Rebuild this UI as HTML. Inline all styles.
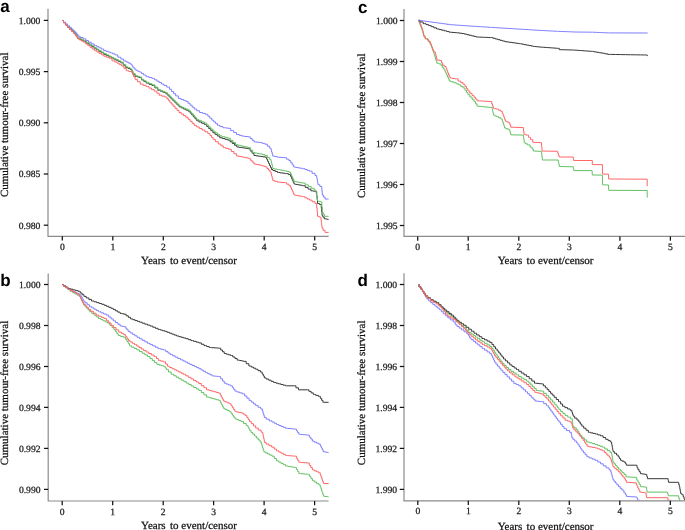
<!DOCTYPE html>
<html><head><meta charset="utf-8"><style>
html,body{margin:0;padding:0;background:#fff;}
svg{display:block;}
text{text-rendering:geometricPrecision;}
.tk{font-family:"Liberation Serif",serif;font-size:9.6px;fill:#1a1a1a;stroke:#1a1a1a;stroke-width:0.25px;}
.lb{font-family:"Liberation Serif",serif;font-size:11px;fill:#111;stroke:#111;stroke-width:0.25px;}
.pl{font-family:"Liberation Sans",sans-serif;font-size:17px;font-weight:bold;fill:#000;}
</style></head><body>
<svg width="685" height="530" viewBox="0 0 685 530">
<g style="filter:blur(0.3px)">
<defs>
<clipPath id="ca"><rect x="48" y="5" width="290" height="231"/></clipPath>
<clipPath id="cb"><rect x="48" y="270" width="290" height="231"/></clipPath>
<clipPath id="cc"><rect x="404" y="5" width="290" height="231"/></clipPath>
<clipPath id="cd"><rect x="404" y="270" width="290" height="230.5"/></clipPath>
</defs>
<path d="M48,8.8V236.3H328.6" fill="none" stroke="#8c8c8c" stroke-width="1.2"/>
<path d="M43.8,20.4H48" stroke="#111" stroke-width="1.25"/>
<text x="40.3" y="23.8" class="tk" text-anchor="end">1.000</text>
<path d="M43.8,71.6H48" stroke="#111" stroke-width="1.25"/>
<text x="40.3" y="75.0" class="tk" text-anchor="end">0.995</text>
<path d="M43.8,122.8H48" stroke="#111" stroke-width="1.25"/>
<text x="40.3" y="126.2" class="tk" text-anchor="end">0.990</text>
<path d="M43.8,174.0H48" stroke="#111" stroke-width="1.25"/>
<text x="40.3" y="177.4" class="tk" text-anchor="end">0.985</text>
<path d="M43.8,225.2H48" stroke="#111" stroke-width="1.25"/>
<text x="40.3" y="228.6" class="tk" text-anchor="end">0.980</text>
<path d="M62.3,236.3V240.6" stroke="#111" stroke-width="1.25"/>
<text x="62.3" y="249.9" class="tk" text-anchor="middle">0</text>
<path d="M112.8,236.3V240.6" stroke="#111" stroke-width="1.25"/>
<text x="112.8" y="249.9" class="tk" text-anchor="middle">1</text>
<path d="M163.3,236.3V240.6" stroke="#111" stroke-width="1.25"/>
<text x="163.3" y="249.9" class="tk" text-anchor="middle">2</text>
<path d="M213.7,236.3V240.6" stroke="#111" stroke-width="1.25"/>
<text x="213.7" y="249.9" class="tk" text-anchor="middle">3</text>
<path d="M264.2,236.3V240.6" stroke="#111" stroke-width="1.25"/>
<text x="264.2" y="249.9" class="tk" text-anchor="middle">4</text>
<path d="M314.7,236.3V240.6" stroke="#111" stroke-width="1.25"/>
<text x="314.7" y="249.9" class="tk" text-anchor="middle">5</text>
<text x="189" y="263.9" class="lb" text-anchor="middle" >Years<tspan dx="1.6"> to event/censor</tspan></text>
<text transform="translate(8.0,124.75) rotate(-90)" class="lb" text-anchor="middle">Cumulative tumour-free survival</text>
<path d="M48.2,273.5V501.0H328.6" fill="none" stroke="#8c8c8c" stroke-width="1.2"/>
<path d="M44.0,284.5H48.2" stroke="#111" stroke-width="1.25"/>
<text x="40.5" y="287.9" class="tk" text-anchor="end">1.000</text>
<path d="M44.0,325.5H48.2" stroke="#111" stroke-width="1.25"/>
<text x="40.5" y="328.9" class="tk" text-anchor="end">0.998</text>
<path d="M44.0,366.5H48.2" stroke="#111" stroke-width="1.25"/>
<text x="40.5" y="369.9" class="tk" text-anchor="end">0.996</text>
<path d="M44.0,407.4H48.2" stroke="#111" stroke-width="1.25"/>
<text x="40.5" y="410.8" class="tk" text-anchor="end">0.994</text>
<path d="M44.0,448.4H48.2" stroke="#111" stroke-width="1.25"/>
<text x="40.5" y="451.8" class="tk" text-anchor="end">0.992</text>
<path d="M44.0,489.4H48.2" stroke="#111" stroke-width="1.25"/>
<text x="40.5" y="492.8" class="tk" text-anchor="end">0.990</text>
<path d="M62.2,501.0V505.3" stroke="#111" stroke-width="1.25"/>
<text x="62.2" y="514.6" class="tk" text-anchor="middle">0</text>
<path d="M112.7,501.0V505.3" stroke="#111" stroke-width="1.25"/>
<text x="112.7" y="514.6" class="tk" text-anchor="middle">1</text>
<path d="M163.2,501.0V505.3" stroke="#111" stroke-width="1.25"/>
<text x="163.2" y="514.6" class="tk" text-anchor="middle">2</text>
<path d="M213.6,501.0V505.3" stroke="#111" stroke-width="1.25"/>
<text x="213.6" y="514.6" class="tk" text-anchor="middle">3</text>
<path d="M264.1,501.0V505.3" stroke="#111" stroke-width="1.25"/>
<text x="264.1" y="514.6" class="tk" text-anchor="middle">4</text>
<path d="M314.6,501.0V505.3" stroke="#111" stroke-width="1.25"/>
<text x="314.6" y="514.6" class="tk" text-anchor="middle">5</text>
<text x="189" y="529.4" class="lb" text-anchor="middle" >Years<tspan dx="1.6"> to event/censor</tspan></text>
<text transform="translate(7.7,393) rotate(-90)" class="lb" text-anchor="middle">Cumulative tumour-free survival</text>
<path d="M404,8.9V236.4H685" fill="none" stroke="#8c8c8c" stroke-width="1.2"/>
<path d="M399.8,20.5H404" stroke="#111" stroke-width="1.25"/>
<text x="397.6" y="23.9" class="tk" text-anchor="end">1.000</text>
<path d="M399.8,61.5H404" stroke="#111" stroke-width="1.25"/>
<text x="397.6" y="64.9" class="tk" text-anchor="end">1.999</text>
<path d="M399.8,102.5H404" stroke="#111" stroke-width="1.25"/>
<text x="397.6" y="105.9" class="tk" text-anchor="end">1.998</text>
<path d="M399.8,143.5H404" stroke="#111" stroke-width="1.25"/>
<text x="397.6" y="146.9" class="tk" text-anchor="end">1.997</text>
<path d="M399.8,184.5H404" stroke="#111" stroke-width="1.25"/>
<text x="397.6" y="187.9" class="tk" text-anchor="end">1.996</text>
<path d="M399.8,225.5H404" stroke="#111" stroke-width="1.25"/>
<text x="397.6" y="228.9" class="tk" text-anchor="end">1.995</text>
<path d="M417.7,236.4V240.7" stroke="#111" stroke-width="1.25"/>
<text x="417.7" y="250.0" class="tk" text-anchor="middle">0</text>
<path d="M468.2,236.4V240.7" stroke="#111" stroke-width="1.25"/>
<text x="468.2" y="250.0" class="tk" text-anchor="middle">1</text>
<path d="M518.8,236.4V240.7" stroke="#111" stroke-width="1.25"/>
<text x="518.8" y="250.0" class="tk" text-anchor="middle">2</text>
<path d="M569.3,236.4V240.7" stroke="#111" stroke-width="1.25"/>
<text x="569.3" y="250.0" class="tk" text-anchor="middle">3</text>
<path d="M619.9,236.4V240.7" stroke="#111" stroke-width="1.25"/>
<text x="619.9" y="250.0" class="tk" text-anchor="middle">4</text>
<path d="M670.4,236.4V240.7" stroke="#111" stroke-width="1.25"/>
<text x="670.4" y="250.0" class="tk" text-anchor="middle">5</text>
<text x="545.6" y="264.0" class="lb" text-anchor="middle" >Years<tspan dx="1.6"> to event/censor</tspan></text>
<text transform="translate(365.0,125.75) rotate(-90)" class="lb" text-anchor="middle">Cumulative tumour-free survival</text>
<path d="M404,273.3V500.8H685" fill="none" stroke="#8c8c8c" stroke-width="1.2"/>
<path d="M399.8,284.5H404" stroke="#111" stroke-width="1.25"/>
<text x="397.1" y="287.9" class="tk" text-anchor="end">1.000</text>
<path d="M399.8,325.5H404" stroke="#111" stroke-width="1.25"/>
<text x="397.1" y="328.9" class="tk" text-anchor="end">1.998</text>
<path d="M399.8,366.5H404" stroke="#111" stroke-width="1.25"/>
<text x="397.1" y="369.9" class="tk" text-anchor="end">1.996</text>
<path d="M399.8,407.4H404" stroke="#111" stroke-width="1.25"/>
<text x="397.1" y="410.8" class="tk" text-anchor="end">1.994</text>
<path d="M399.8,448.4H404" stroke="#111" stroke-width="1.25"/>
<text x="397.1" y="451.8" class="tk" text-anchor="end">1.992</text>
<path d="M399.8,489.4H404" stroke="#111" stroke-width="1.25"/>
<text x="397.1" y="492.8" class="tk" text-anchor="end">1.990</text>
<path d="M417.8,500.8V505.1" stroke="#111" stroke-width="1.25"/>
<text x="417.8" y="514.4" class="tk" text-anchor="middle">0</text>
<path d="M468.3,500.8V505.1" stroke="#111" stroke-width="1.25"/>
<text x="468.3" y="514.4" class="tk" text-anchor="middle">1</text>
<path d="M518.8,500.8V505.1" stroke="#111" stroke-width="1.25"/>
<text x="518.8" y="514.4" class="tk" text-anchor="middle">2</text>
<path d="M569.3,500.8V505.1" stroke="#111" stroke-width="1.25"/>
<text x="569.3" y="514.4" class="tk" text-anchor="middle">3</text>
<path d="M619.8,500.8V505.1" stroke="#111" stroke-width="1.25"/>
<text x="619.8" y="514.4" class="tk" text-anchor="middle">4</text>
<path d="M670.3,500.8V505.1" stroke="#111" stroke-width="1.25"/>
<text x="670.3" y="514.4" class="tk" text-anchor="middle">5</text>
<text x="545.6" y="529.9" class="lb" text-anchor="middle" >Years<tspan dx="1.6"> to event/censor</tspan></text>
<text transform="translate(365.0,392.85) rotate(-90)" class="lb" text-anchor="middle">Cumulative tumour-free survival</text>
<path d="M62.5,20.5H63.50V22.73H65.50V24.97H67.50V27.20H68.50H69.63V29.30H71.90V31.40H74.17V33.50H75.30H76.05V35.85H77.55V38.20H78.30H79.35V39.20H81.45V40.20H83.55V41.20H84.60H86.10V43.10H89.10V45.00H90.60H91.73V46.57H94.00V48.13H96.27V49.70H97.40H98.67V51.23H101.20V52.77H103.73V54.30H105.00H106.33V55.60H108.97V56.90H110.30H111.40V58.00H113.60V59.10H115.80V60.20H116.90H118.23V61.55H120.88V62.90H122.20H123.35V65.20H125.65V67.50H126.80H127.95V68.50H130.25V69.50H131.40H131.90V71.80H132.90V74.10H133.40H135.05V76.40H136.70H137.67V77.05H139.62V77.70H140.60H141.60V80.00H142.60H143.82V81.55H146.28V83.10H147.50H148.97V84.30H151.93V85.50H153.40H154.85V87.85H157.75V90.20H159.20H160.37V91.17H162.70V92.13H165.03V93.10H166.20H167.17V95.03H169.10V96.97H171.03V98.90H172.00H173.00V100.88H175.00V102.85H177.00V104.83H179.00V106.80H180.00H181.16V107.90H183.49V109.00H185.81V110.10H188.14V111.20H189.30H190.12V113.10H191.76V115.00H193.40V116.90H195.04V118.80H196.68V120.70H197.50H198.87V121.97H201.60V123.23H204.33V124.50H205.70H206.72V126.55H208.78V128.60H210.82V130.65H212.88V132.70H213.90H215.07V134.37H217.40V136.03H219.73V137.70H220.90H222.25V138.50H224.95V139.30H227.65V140.10H229.00H230.11V141.82H232.34V143.55H234.56V145.28H236.79V147.00H237.90H239.04V147.34H241.32V147.68H243.60V148.02H245.88V148.36H248.16V148.70H249.30H250.23V150.97H252.10V153.23H253.97V155.50H254.90H256.03V155.84H258.29V156.18H260.55V156.52H262.81V156.86H265.07V157.20H266.20H266.68V159.27H267.62V161.33H268.57V163.40H269.52V165.47H270.47V167.53H271.42V169.60H271.90H273.03V170.57H275.30V171.53H277.57V172.50H278.70H280.02V172.87H282.65V173.23H285.28V173.60H286.60H288.40V174.60H290.20H290.62V176.48H291.46V178.36H292.30V180.24H293.14V182.12H293.98V184.00H294.40H295.57V184.43H297.93V184.85H300.27V185.27H302.62V185.70H303.80H305.22V187.40H308.05V189.10H310.88V190.80H312.30H313.35V191.20H315.45V191.60H316.50H316.70V195.57H317.10V199.53H317.50V203.50H317.70H319.40V204.40H321.10H321.28V208.07H321.65V211.73H322.02V215.40H322.20H322.90V217.10H324.30V218.80H325.00L328.6,219.4" fill="none" stroke="#383838" stroke-width="1" clip-path="url(#ca)"/>
<path d="M62.5,20.5H63.50V22.50H65.50V24.50H67.50V26.50H68.50H69.63V28.60H71.90V30.70H74.17V32.80H75.30H76.05V35.15H77.55V37.50H78.30H79.35V38.50H81.45V39.50H83.55V40.50H84.60H86.10V42.40H89.10V44.30H90.60H91.73V45.87H94.00V47.43H96.27V49.00H97.40H98.67V50.53H101.20V52.07H103.73V53.60H105.00H106.33V54.90H108.97V56.20H110.30H111.40V57.30H113.60V58.40H115.80V59.50H116.90H118.23V60.85H120.88V62.20H122.20H123.35V64.50H125.65V66.80H126.80H127.95V67.80H130.25V68.80H131.40H131.90V71.10H132.90V73.40H133.40H135.05V75.70H136.70H137.67V76.35H139.62V77.00H140.60H141.60V79.30H142.60H143.82V80.85H146.28V82.40H147.50H148.97V83.60H151.93V84.80H153.40H154.85V87.15H157.75V89.50H159.20H160.37V90.47H162.70V91.43H165.03V92.40H166.20H167.17V94.33H169.10V96.27H171.03V98.20H172.00H173.00V100.17H175.00V102.15H177.00V104.12H179.00V106.10H180.00H181.16V107.12H183.49V108.15H185.81V109.17H188.14V110.20H189.30H190.12V112.06H191.76V113.92H193.40V115.78H195.04V117.64H196.68V119.50H197.50H198.87V120.67H201.60V121.83H204.33V123.00H205.70H206.72V125.05H208.78V127.10H210.82V129.15H212.88V131.20H213.90H215.07V132.77H217.40V134.33H219.73V135.90H220.90H222.25V136.67H224.95V137.43H227.65V138.20H229.00H230.30V140.37H232.90V142.53H235.50V144.70H236.80H238.05V145.28H240.55V145.86H243.05V146.44H245.55V147.02H248.05V147.60H249.30H250.43V150.10H252.68V152.60H253.80H254.93V153.00H257.20V153.40H259.47V153.80H260.60H262.00V154.65H264.80V155.50H266.20H267.35V157.45H269.65V159.40H270.80H271.02V161.22H271.46V163.04H271.90V164.86H272.34V166.68H272.78V168.50H273.00H274.43V169.05H277.27V169.60H278.70H279.83V170.00H282.10V170.40H284.37V170.80H285.50H286.68V171.45H289.02V172.10H290.20H290.62V173.96H291.46V175.82H292.30V177.68H293.14V179.54H293.98V181.40H294.40H295.57V181.82H297.93V182.25H300.27V182.68H302.62V183.10H303.80H305.27V184.80H308.23V186.50H309.70H311.20V188.25H314.20V190.00H315.70H315.87V191.83H316.20V193.67H316.53V195.50H316.87V197.33H317.20V199.17H317.53V201.00H317.70H318.68V201.40H320.62V201.80H321.60H321.83V206.90H322.27V212.00H322.50H323.12V214.15H324.38V216.30H325.00L328.6,216.3" fill="none" stroke="#63c063" stroke-width="1" clip-path="url(#ca)"/>
<path d="M62.5,20.5H63.50V22.20H65.50V23.90H67.50V25.60H68.50H69.45V27.40H71.35V29.20H73.25V31.00H75.15V32.80H76.10H76.75V34.50H78.05V36.20H78.70H80.17V37.50H83.12V38.80H84.60H85.88V40.50H88.42V42.20H89.70H91.20V43.90H94.20V45.60H95.70H96.82V46.73H99.05V47.87H101.28V49.00H102.40H103.70V50.60H105.00H106.10V51.37H108.30V52.13H110.50V52.90H111.60H112.75V53.90H115.05V54.90H116.20H117.85V57.20H119.50H120.83V59.00H123.47V60.80H124.80H125.90V61.90H128.10V63.00H130.30V64.10H131.40H131.90V65.75H132.90V67.40H133.40H134.22V68.90H135.88V70.40H136.70H137.67V71.25H139.62V72.10H140.60H141.60V73.55H143.60V75.00H144.60H146.05V76.60H147.50H148.97V77.50H151.93V78.40H153.40H154.56V79.80H156.88V81.20H159.20V82.60H161.52V84.00H163.84V85.40H165.00H166.75V87.10H168.50H169.53V89.30H171.57V91.50H173.62V93.70H175.67V95.90H176.70H178.35V98.50H180.00H181.17V99.47H183.50V100.43H185.83V101.40H187.00H188.03V103.30H190.07V105.20H192.12V107.10H194.17V109.00H195.20H196.65V110.75H199.55V112.50H201.00H202.47V113.40H205.43V114.30H206.90H207.87V116.23H209.80V118.17H211.73V120.10H212.70H213.67V121.87H215.60V123.63H217.53V125.40H218.50H219.97V126.55H222.93V127.70H224.40H225.55V128.00H227.85V128.30H229.00H230.65V130.60H232.30H233.70V132.55H236.50V134.50H237.90H239.32V135.35H242.18V136.20H243.60H245.03V136.50H247.88V136.80H249.30H250.23V138.50H252.10V140.20H253.97V141.90H254.90L260.6,142.5H262.00V143.35H264.80V144.20H266.20H267.35V146.15H269.65V148.10H270.80H271.07V150.07H271.62V152.05H272.18V154.03H272.73V156.00H273.00H274.43V156.60H277.27V157.20H278.70L285.5,157.7H286.62V159.15H288.88V160.60H290.00H290.73V162.73H292.20V164.87H293.67V167.00H294.40H295.57V167.43H297.93V167.85H300.27V168.27H302.62V168.70H303.80H304.93V169.53H307.20V170.37H309.47V171.20H310.60H312.08V173.35H315.02V175.50H316.50H316.67V177.36H317.01V179.22H317.35V181.08H317.69V182.94H318.03V184.80H318.20H319.90V186.50H321.60H321.83V190.75H322.27V195.00H322.50H323.35V197.00H325.05V199.00H325.90L328.6,199.0" fill="none" stroke="#7e7eff" stroke-width="1" clip-path="url(#ca)"/>
<path d="M62.5,20.5H63.50V22.77H65.50V25.03H67.50V27.30H68.50H69.48V29.30H71.45V31.30H73.42V33.30H74.40H75.05V35.13H76.35V36.97H77.65V38.80H78.30H79.35V39.93H81.45V41.07H83.55V42.20H84.60H85.67V43.90H87.83V45.60H88.90H90.03V47.30H92.30V49.00H94.57V50.70H95.70H96.86V52.08H99.19V53.45H101.51V54.83H103.84V56.20H105.00H106.33V57.20H108.97V58.20H110.30H111.95V60.80H113.60H114.75V62.00H117.05V63.20H118.20H119.35V64.65H121.65V66.10H122.80H123.95V68.40H126.25V70.70H127.40H128.57V71.40H130.93V72.10H132.10H132.57V74.40H133.53V76.70H134.00H135.00V79.30H136.00H137.43V81.75H140.27V84.20H141.70H143.15V85.35H146.05V86.50H147.50H148.87V88.07H151.60V89.63H154.33V91.20H155.70H156.88V93.25H159.22V95.30H160.40H161.85V96.15H164.75V97.00H166.20H166.92V98.75H168.38V100.50H169.82V102.25H171.28V104.00H172.00H173.00V106.12H175.00V108.25H177.00V110.38H179.00V112.50H180.00H181.17V114.07H183.50V115.63H185.83V117.20H187.00H188.03V119.25H190.07V121.30H192.12V123.35H194.17V125.40H195.20H196.57V126.93H199.30V128.47H202.03V130.00H203.40H204.85V131.75H207.75V133.50H209.20H209.98V135.47H211.55V137.43H213.12V139.40H213.90H215.35V141.70H218.25V144.00H219.70H220.88V145.80H223.22V147.60H224.40H225.80V148.45H228.60V149.30H230.00H231.32V151.53H233.95V153.77H236.58V156.00H237.90H239.04V156.46H241.32V156.92H243.60V157.38H245.88V157.84H248.16V158.30H249.30H250.23V160.20H252.10V162.10H253.97V164.00H254.90H256.32V164.55H259.18V165.10H260.60H262.00V165.95H264.80V166.80H266.20H266.97V168.50H268.50V170.20H270.03V171.90H270.80H271.07V174.03H271.62V176.15H272.18V178.28H272.73V180.40H273.00H274.43V181.25H277.27V182.10H278.70L285.5,182.7H286.68V184.20H289.02V185.70H290.20H290.62V187.56H291.46V189.42H292.30V191.28H293.14V193.14H293.98V195.00H294.40H295.57V195.43H297.93V195.85H300.27V196.27H302.62V196.70H303.80H304.93V197.83H307.20V198.97H309.47V200.10H310.60H312.08V201.80H315.02V203.50H316.50H316.70V207.77H317.10V212.03H317.50V216.30H317.70H319.25V217.10H320.80H320.98V219.88H321.32V222.65H321.68V225.42H322.02V228.20H322.20H323.12V230.30H324.97V232.40H325.90L328.6,232.4" fill="none" stroke="#ff6666" stroke-width="1" clip-path="url(#ca)"/>
<path d="M62.3,284.5H63.42V286.20H65.67V287.90H67.92V289.60H70.17V291.30H71.30H72.44V292.57H74.71V293.85H76.99V295.12H79.26V296.40H80.40H80.83V298.38H81.67V300.35H82.53V302.32H83.38V304.30H83.80H84.65V306.15H86.35V308.00H88.05V309.85H89.75V311.70H90.60H91.72V313.40H93.97V315.10H96.22V316.80H98.47V318.50H99.60H100.74V319.62H103.01V320.75H105.29V321.88H107.56V323.00H108.70H109.83V325.30H112.08V327.60H113.20H113.91V329.58H115.34V331.55H116.76V333.52H118.19V335.50H118.90H120.43V336.40H123.47V337.30H125.00H125.66V339.45H126.99V341.60H128.31V343.75H129.64V345.90H130.30H131.62V347.23H134.25V348.57H136.88V349.90H138.20H139.52V351.55H142.18V353.20H144.82V354.85H147.48V356.50H148.80H149.95V358.48H152.25V360.45H154.55V362.42H156.85V364.40H158.00H159.10V365.07H161.30V365.73H163.50V366.40H164.60H165.25V368.05H166.55V369.70H167.20H168.52V372.00H171.18V374.30H172.50H173.75V375.76H176.25V377.23H178.75V378.69H181.25V380.15H183.75V381.62H186.25V383.08H188.75V384.55H191.25V386.01H193.75V387.47H196.25V388.94H198.75V390.40H200.00H201.32V392.63H203.95V394.87H206.58V397.10H207.90H209.09V397.76H211.47V398.42H213.85V399.08H216.23V399.74H218.61V400.40H219.80H220.30V402.38H221.30V404.35H222.30V406.32H223.30V408.30H223.80H224.90V409.40H227.10V410.50H229.30V411.60H230.40H231.05V413.40H232.35V415.20H233.65V417.00H234.95V418.80H235.60H236.70V419.70H238.90V420.60H241.10V421.50H242.20H243.52V423.45H246.18V425.40H247.50H247.95V427.17H248.85V428.93H249.75V430.70H250.20H251.07V432.47H252.80V434.23H254.53V436.00H255.40H256.33V437.97H258.20V439.93H260.07V441.90H261.00H261.31V443.86H261.93V445.82H262.55V447.78H263.17V449.74H263.79V451.70H264.10H265.23V452.82H267.48V453.95H269.73V455.07H271.98V456.20H273.10H274.23V458.50H276.48V460.80H277.60H278.74V462.10H281.01V463.40H283.29V464.70H285.56V466.00H286.70H287.84V466.38H290.11V466.75H292.39V467.12H294.66V467.50H295.80H296.42V469.53H297.65V471.57H298.88V473.60H299.50H300.64V473.78H302.91V473.95H305.19V474.12H307.46V474.30H308.60H309.35V476.33H310.85V478.37H312.35V480.40H313.10H314.23V481.90H316.50V483.40H318.77V484.90H319.90H320.22V486.78H320.85V488.67H321.48V490.55H322.12V492.43H322.75V494.32H323.38V496.20H323.70H324.93V496.50H327.38V496.80H328.60" fill="none" stroke="#63c063" stroke-width="1" clip-path="url(#cb)"/>
<path d="M62.3,284.5H63.43V286.03H65.70V287.57H67.97V289.10H69.10H70.23V290.22H72.49V291.34H74.75V292.46H77.01V293.58H79.27V294.70H80.40H80.97V296.80H82.10V298.90H83.23V301.00H83.80H84.93V302.87H87.20V304.73H89.47V306.60H90.60H91.72V307.88H93.97V309.15H96.22V310.43H98.47V311.70H99.60H100.93V312.83H103.60V313.97H106.27V315.10H107.60H108.73V317.00H111.00V318.90H113.27V320.80H114.40H115.53V322.50H117.80V324.20H120.07V325.90H121.20H122.15V326.35H124.05V326.80H125.00H126.00V329.10H128.00V331.40H129.00H130.15V332.88H132.45V334.35H134.75V335.82H137.05V337.30H138.20H139.52V338.80H142.18V340.30H144.82V341.80H147.48V343.30H148.80H150.11V344.62H152.74V345.95H155.36V347.28H157.99V348.60H159.30H160.62V349.25H163.28V349.90H164.60H165.70V351.43H167.90V352.97H170.10V354.50H171.20H172.52V355.82H175.18V357.15H177.82V358.48H180.48V359.80H181.80H182.95V360.95H185.25V362.10H187.55V363.25H189.85V364.40H191.00H192.12V365.47H194.38V366.55H196.62V367.62H198.88V368.70H200.00H201.10V370.00H203.30V371.30H205.50V372.60H206.60H207.70V373.70H209.90V374.80H212.10V375.90H213.20H214.30V376.13H216.50V376.37H218.70V376.60H219.80H220.68V378.80H222.45V381.00H224.22V383.20H225.10H226.20V384.07H228.40V384.93H230.60V385.80H231.70H232.35V387.57H233.65V389.33H234.95V391.10H235.60H236.93V392.00H239.60V392.90H242.27V393.80H243.60H244.70V396.00H246.90V398.20H249.10V400.40H250.20H251.30V402.13H253.50V403.87H255.70V405.60H256.80H258.10V407.25H260.70V408.90H262.00H262.34V411.05H263.01V413.20H263.69V415.35H264.36V417.50H264.70H266.23V419.15H269.27V420.80H270.80H271.93V422.03H274.20V423.27H276.47V424.50H277.60H278.74V425.45H281.01V426.40H283.29V427.35H285.56V428.30H286.70H287.84V428.50H290.11V428.70H292.39V428.90H294.66V429.10H295.80H296.42V430.83H297.65V432.57H298.88V434.30H299.50H300.64V434.50H302.91V434.70H305.19V434.90H307.46V435.10H308.60H309.35V437.10H310.85V439.10H312.35V441.10H313.10H314.23V442.13H316.50V443.17H318.77V444.20H319.90H320.38V446.07H321.32V447.95H322.27V449.82H323.22V451.70H323.70H324.93V452.10H327.38V452.50H328.60" fill="none" stroke="#7e7eff" stroke-width="1" clip-path="url(#cb)"/>
<path d="M62.3,284.5H63.43V285.83H65.70V287.17H67.97V288.50H69.10H70.38V289.20H72.92V289.90H75.47V290.60H78.02V291.30H79.30H80.23V293.00H82.10V294.70H83.97V296.40H84.90H86.22V297.93H88.85V299.47H91.48V301.00H92.80H94.08V301.82H96.62V302.65H99.17V303.48H101.72V304.30H103.00H104.14V305.30H106.41V306.30H108.69V307.30H110.96V308.30H112.10H113.24V309.57H115.51V310.85H117.79V312.12H120.06V313.40H121.20H122.15V313.80H124.05V314.20H125.00H126.10V315.77H128.30V317.33H130.50V318.90H131.60H132.75V319.72H135.05V320.55H137.35V321.38H139.65V322.20H140.80H142.12V323.18H144.78V324.15H147.43V325.12H150.08V326.10H151.40H152.72V327.20H155.35V328.30H157.98V329.40H159.30H160.40V330.07H162.60V330.73H164.80V331.40H165.90H167.09V332.32H169.47V333.24H171.85V334.16H174.23V335.08H176.61V336.00H177.80H178.95V336.68H181.25V337.35H183.55V338.02H185.85V338.70H187.00H188.32V339.65H190.98V340.60H192.30H193.58V341.37H196.15V342.13H198.72V342.90H200.00H201.32V344.25H203.98V345.60H205.30H206.62V346.55H209.28V347.50H210.60H211.75V347.68H214.05V347.85H216.35V348.02H218.65V348.20H219.80H220.68V349.97H222.45V351.73H224.22V353.50H225.10H226.20V354.17H228.40V354.83H230.60V355.50H231.70H232.80V357.03H235.00V358.57H237.20V360.10H238.30H239.40V360.53H241.60V360.97H243.80V361.40H244.90H246.22V363.70H248.88V366.00H250.20H251.30V367.10H253.50V368.20H255.70V369.30H256.80H258.00V370.65H260.40V372.00H261.60H262.15V373.97H263.25V375.93H264.35V377.90H264.90H266.14V379.05H268.61V380.20H271.09V381.35H273.56V382.50H274.80H275.99V383.16H278.37V383.82H280.75V384.48H283.13V385.14H285.51V385.80H286.70L294.6,385.8H295.93V387.80H298.57V389.80H299.90L307.8,389.8H308.90V391.33H311.10V392.87H313.30V394.40H314.40H315.72V395.40H318.38V396.40H319.70H320.35V398.37H321.65V400.33H322.95V402.30H323.60L328.6,402.3" fill="none" stroke="#383838" stroke-width="1" clip-path="url(#cb)"/>
<path d="M62.3,284.5H63.43V286.03H65.70V287.57H67.97V289.10H69.10H70.38V290.50H72.92V291.90H75.47V293.30H78.02V294.70H79.30H79.72V296.68H80.58V298.65H81.42V300.62H82.28V302.60H82.70H83.82V304.87H86.05V307.13H88.28V309.40H89.40H90.73V311.30H93.40V313.20H96.07V315.10H97.40H98.72V316.23H101.35V317.37H103.98V318.50H105.30H106.43V320.77H108.70V323.03H110.97V325.30H112.10H113.42V327.57H116.05V329.83H118.68V332.10H120.00H121.25V333.40H123.75V334.70H125.00H125.67V336.67H127.00V338.63H128.33V340.60H129.00H130.10V341.93H132.30V343.27H134.50V344.60H135.60H136.75V346.08H139.05V347.55H141.35V349.02H143.65V350.50H144.80H146.12V352.00H148.78V353.50H151.43V355.00H154.08V356.50H155.40H156.38V358.45H158.33V360.40H159.30H160.62V361.10H163.28V361.80H164.60H165.60V364.10H167.60V366.40H168.60H169.75V367.55H172.05V368.70H174.35V369.85H176.65V371.00H177.80H178.90V372.10H181.10V373.20H183.30V374.30H184.40H185.70V375.83H188.30V377.37H190.90V378.90H193.50V380.43H196.10V381.97H198.70V383.50H200.00H201.32V385.60H203.95V387.70H206.58V389.80H207.90H209.09V390.46H211.47V391.12H213.85V391.78H216.23V392.44H218.61V393.10H219.80H220.30V395.08H221.30V397.05H222.30V399.02H223.30V401.00H223.80H224.90V401.90H227.10V402.80H229.30V403.70H230.40H231.05V405.68H232.35V407.65H233.65V409.62H234.95V411.60H235.60H236.70V412.03H238.90V412.47H241.10V412.90H242.20H243.20V414.20H245.20V415.50H246.20H246.87V417.50H248.20V419.50H249.53V421.50H250.20H251.30V423.70H253.50V425.90H255.70V428.10H256.80H258.23V430.10H261.07V432.10H262.50H262.73V434.20H263.19V436.30H263.65V438.40H264.11V440.50H264.57V442.60H264.80H266.18V444.13H268.95V445.67H271.72V447.20H273.10H274.23V449.05H276.48V450.90H277.60H278.74V452.05H281.01V453.20H283.29V454.35H285.56V455.50H286.70H287.84V455.68H290.11V455.85H292.39V456.02H294.66V456.20H295.80H296.42V458.23H297.65V460.27H298.88V462.30H299.50H300.64V462.48H302.91V462.65H305.19V462.82H307.46V463.00H308.60H309.35V465.27H310.85V467.53H312.35V469.80H313.10H314.23V470.80H316.50V471.80H318.77V472.80H319.90H320.28V474.92H321.04V477.04H321.80V479.16H322.56V481.28H323.32V483.40H323.70L328.6,483.6" fill="none" stroke="#ff6666" stroke-width="1" clip-path="url(#cb)"/>
<path d="M418.6,20.3H419.00V22.42H419.80V24.54H420.60V26.66H421.40V28.78H422.20V30.90H422.60H422.93V33.10H423.60V35.30H424.27V37.50H424.60H425.58V38.80H427.52V40.10H428.50H428.95V41.87H429.85V43.63H430.75V45.40H431.20H431.52V47.20H432.18V49.00H432.82V50.80H433.48V52.60H433.80H434.13V54.72H434.79V56.84H435.45V58.96H436.11V61.08H436.77V63.20H437.10H438.75V63.90H440.40H441.07V65.67H442.40V67.43H443.73V69.20H444.40H444.84V71.17H445.72V73.13H446.61V75.10H447.49V77.07H448.38V79.03H449.26V81.00H449.70H451.05V81.85H453.75V82.70H455.10H456.23V83.80H458.48V84.90H459.60H460.75V86.40H463.05V87.90H464.20H464.95V90.17H466.45V92.43H467.95V94.70H468.70H469.82V97.00H472.07V99.30H473.20H473.97V101.57H475.50V103.83H477.03V106.10H477.80H478.99V106.35H481.38V106.60H483.76V106.85H486.14V107.10H488.53V107.35H490.91V107.60H492.10H492.29V109.47H492.66V111.35H493.04V113.22H493.41V115.10H493.60H494.55V115.85H496.45V116.60H497.40H498.52V117.75H500.77V118.90H501.90H502.20V120.72H502.80V122.54H503.40V124.36H504.00V126.18H504.60V128.00H504.90H506.05V128.75H508.35V129.50H509.50H509.75V131.27H510.25V133.03H510.75V134.80H511.00L523.3,135.1H523.48V137.63H523.85V140.17H524.22V142.70H524.40H525.45V143.80H527.55V144.90H528.60H530.10V147.20H531.60H532.17V149.10H533.33V151.00H533.90L541.4,151.4H541.58V154.27H541.95V157.13H542.32V160.00H542.50L558.0,160.0H558.25V162.17H558.75V164.33H559.25V166.50H559.50L573.1,166.8H573.30V168.70H573.70V170.60H573.90L592.1,170.6L592.3,175.0L602.3,175.1H602.45V184.80H602.60L608.5,185.0L608.7,190.3L647.2,190.5L647.2,197.6" fill="none" stroke="#63c063" stroke-width="1" clip-path="url(#cc)"/>
<path d="M418.6,20.3H419.10V22.25H420.10V24.20H420.60H420.93V25.97H421.60V27.73H422.27V29.50H422.60H422.82V31.70H423.25V33.90H423.68V36.10H423.90H425.20V38.80H426.50H428.20V41.40H429.90H430.22V43.05H430.88V44.70H431.20H431.63V46.90H432.50V49.10H433.37V51.30H433.80H434.45V52.00H435.10H435.35V53.98H435.85V55.95H436.35V57.92H436.85V59.90H437.10H438.10V60.25H440.10V60.60H441.10H441.60V62.90H442.60V65.20H443.10H444.40V66.50H445.70H446.10V68.62H446.90V70.74H447.70V72.86H448.50V74.98H449.30V77.10H449.70H450.50V78.10H451.30H452.62V78.50H455.28V78.90H456.60H458.10V81.10H459.60H460.75V82.65H463.05V84.20H464.20H464.95V86.47H466.45V88.73H467.95V91.00H468.70H469.82V93.25H472.07V95.50H473.20H473.97V97.27H475.50V99.03H477.03V100.80H477.80H479.15V100.94H481.85V101.08H484.55V101.22H487.25V101.36H489.95V101.50H491.30H491.68V103.77H492.45V106.03H493.22V108.30H493.60H494.55V108.70H496.45V109.10H497.40H498.52V110.20H500.77V111.30H501.90H502.28V113.28H503.04V115.26H503.80V117.24H504.56V119.22H505.32V121.20H505.70H506.65V121.95H508.55V122.70H509.50H509.88V124.95H510.62V127.20H511.00L523.3,127.6H523.50V130.95H523.90V134.30H524.10H525.95V135.10H527.80H528.55V137.40H529.30H530.45V139.60H531.60H532.75V142.30H533.90L541.4,142.7H541.60V146.85H542.00V151.00H542.20L557.3,151.3H557.67V153.20H558.40V155.10H559.13V157.00H559.50L573.1,157.0H573.30V158.75H573.70V160.50H573.90L592.3,160.5L592.3,164.6L602.3,164.6H602.45V174.00H602.60L608.5,174.2L608.7,179.0L647.2,179.2L647.2,186.2" fill="none" stroke="#ff6666" stroke-width="1" clip-path="url(#cc)"/>
<path d="M418.6,20.3H420.10V21.95H423.10V23.60H424.60H425.93V24.60H428.57V25.60H429.90H431.22V26.70H433.85V27.80H436.48V28.90H437.80H439.12V29.57H441.75V30.23H444.38V30.90H445.70H446.85V31.55H449.15V32.20H450.30L457.6,32.8H458.98V33.15H461.73V33.50H463.10H464.29V34.08H466.68V34.67H469.06V35.25H471.44V35.83H473.82V36.42H476.21V37.00H477.40H478.59V37.10H480.97V37.20H483.36V37.30H485.74V37.40H488.12V37.50H490.51V37.60H491.70H492.89V38.28H495.27V38.97H497.66V39.65H500.04V40.33H502.43V41.02H504.81V41.70H506.00H507.20V42.03H509.60V42.37H512.00V42.70H514.40V43.03H516.80V43.37H519.20V43.70H520.40H521.59V44.17H523.98V44.63H526.36V45.10H528.74V45.57H531.12V46.03H533.51V46.50H534.70L540.0,47.0H541.25V47.19H543.75V47.37H546.25V47.56H548.75V47.74H551.25V47.93H553.75V48.11H556.25V48.30H557.50H559.25V49.70H561.00L573.3,50.0H574.51V50.17H576.92V50.35H579.33V50.52H581.74V50.70H584.16V50.88H586.57V51.05H588.98V51.23H591.39V51.40H592.60H593.91V51.85H596.54V52.30H599.16V52.75H601.79V53.20H603.10H604.62V53.80H607.68V54.40H609.20H610.46V54.44H612.97V54.48H615.48V54.52H618.00V54.56H620.51V54.60H623.02V54.64H625.54V54.68H628.05V54.72H630.56V54.76H633.08V54.80H635.59V54.84H638.10V54.88H640.62V54.92H643.13V54.96H645.64V55.00H646.90H647.30V55.70H647.70" fill="none" stroke="#383838" stroke-width="1" clip-path="url(#cc)"/>
<path d="M418.6,20.3H419.80V20.62H422.20V20.95H424.60V21.27H427.00V21.60H429.40V21.93H431.80V22.25H434.20V22.57H436.60V22.90H437.80H439.11V23.26H441.73V23.62H444.35V23.98H446.97V24.34H449.59V24.70H450.90H452.21V24.88H454.83V25.06H457.45V25.24H460.07V25.42H462.69V25.60H464.00H465.26V25.76H467.78V25.93H470.30V26.09H472.81V26.25H475.33V26.42H477.85V26.58H480.37V26.75H482.89V26.91H485.40V27.07H487.92V27.24H490.44V27.40H491.70H492.97V27.56H495.51V27.72H498.06V27.87H500.60V28.03H503.14V28.19H505.68V28.35H508.22V28.51H510.77V28.66H513.31V28.82H515.85V28.98H518.39V29.14H520.93V29.29H523.48V29.45H526.02V29.61H528.56V29.77H531.10V29.93H533.64V30.08H536.19V30.24H538.73V30.40H540.00H541.25V30.53H543.75V30.66H546.25V30.79H548.75V30.91H551.25V31.04H553.75V31.17H556.25V31.30H557.50H558.75V31.40H561.25V31.50H563.75V31.60H566.25V31.70H568.75V31.80H571.25V31.90H573.75V32.00H575.00L592.6,32.2H593.91V32.32H596.52V32.43H599.14V32.55H601.76V32.67H604.38V32.78H606.99V32.90H608.30L647.7,33.0" fill="none" stroke="#7e7eff" stroke-width="1" clip-path="url(#cc)"/>
<path d="M418.2,284.5H419.10V286.90H420.90V289.30H421.80H422.32V291.23H423.38V293.15H424.43V295.07H425.48V297.00H426.00H426.93V299.00H428.77V301.00H429.70H430.73V302.70H432.77V304.40H433.80H434.90V306.17H437.10V307.93H439.30V309.70H440.40H441.30V311.70H442.20H443.33V313.77H445.60V315.83H447.87V317.90H449.00H450.40V319.90H453.20V321.90H454.60H455.20V324.70H455.80H456.93V326.40H459.20V328.10H461.47V329.80H462.60H464.00V331.80H466.80V333.80H468.20H468.65V335.80H469.55V337.80H470.00H471.10V339.57H473.30V341.33H475.50V343.10H476.60H477.70V344.87H479.90V346.63H482.10V348.40H483.20H484.52V350.17H487.15V351.93H489.78V353.70H491.10H491.60V355.82H492.60V357.95H493.60V360.07H494.60V362.20H495.10H495.93V364.20H497.57V366.20H499.23V368.20H500.88V370.20H501.70H502.80V372.40H505.00V374.60H507.20V376.80H508.30H509.40V379.00H511.60V381.20H513.80V383.40H514.90H516.17V384.60H518.73V385.80H520.00H521.10V387.80H523.30V389.80H525.50V391.80H526.60H527.52V393.64H529.36V395.48H531.20V397.32H533.04V399.16H534.88V401.00H535.80H536.90V401.23H539.10V401.47H541.30V401.70H542.40H543.73V403.65H546.38V405.60H547.70H548.36V407.46H549.68V409.32H551.00V411.18H552.32V413.04H553.64V414.90H554.30H554.96V416.70H556.29V418.50H557.61V420.30H558.94V422.10H559.60H560.48V424.30H562.25V426.50H564.02V428.70H564.90H566.45V430.50H569.55V432.30H571.10H571.33V434.90H571.77V437.50H572.00H572.88V439.27H574.65V441.03H576.42V442.80H577.30H577.95V444.77H579.25V446.75H580.55V448.73H581.85V450.70H582.50H583.38V452.73H585.15V454.77H586.92V456.80H587.80H589.25V457.97H592.15V459.13H595.05V460.30H596.50H597.83V462.05H600.47V463.80H601.80H603.25V465.83H606.15V467.87H609.05V469.90H610.50H610.77V471.84H611.31V473.78H611.85V475.72H612.39V477.66H612.93V479.60H613.20H613.93V481.33H615.40V483.07H616.87V484.80H617.60H618.47V486.57H620.20V488.33H621.93V490.10H622.80H623.90V492.80H625.00H625.45V494.60H626.35V496.40H626.80H628.04V496.55H630.51V496.70H632.99V496.85H635.46V497.00H636.70H637.00V498.55H637.60V500.10H637.90L640.0,500.5" fill="none" stroke="#7e7eff" stroke-width="1" clip-path="url(#cd)"/>
<path d="M418.2,284.5H419.10V286.80H420.90V289.10H421.80H422.36V290.93H423.49V292.75H424.61V294.57H425.74V296.40H426.30H427.73V298.40H430.57V300.40H432.00H433.40V301.80H436.20V303.20H437.60H438.75V305.20H441.05V307.20H442.20H443.05V309.15H444.75V311.10H445.60H446.73V312.80H449.00V314.50H451.27V316.20H452.40H453.33V318.10H455.20V320.00H457.07V321.90H458.00H459.13V323.80H461.40V325.70H463.67V327.60H464.80H466.10V330.05H468.70V332.50H470.00H471.10V334.07H473.30V335.63H475.50V337.20H476.60H477.70V338.73H479.90V340.27H482.10V341.80H483.20H484.52V343.33H487.15V344.87H489.78V346.40H491.10H491.76V348.38H493.09V350.35H494.41V352.32H495.74V354.30H496.40H497.06V356.16H498.38V358.02H499.70V359.88H501.02V361.74H502.34V363.60H503.00H504.10V365.57H506.30V367.53H508.50V369.50H509.60H510.92V371.27H513.55V373.03H516.18V374.80H517.50H518.75V376.60H520.00H521.32V378.13H523.95V379.67H526.58V381.20H527.90H528.83V383.06H530.69V384.92H532.55V386.78H534.41V388.64H536.27V390.50H537.20H538.50V390.80H541.10V391.10H542.40H543.73V393.40H546.38V395.70H547.70H548.69V397.85H550.66V400.00H552.64V402.15H554.61V404.30H555.60H556.27V406.07H557.60V407.83H558.93V409.60H559.60H560.70V411.57H562.90V413.53H565.10V415.50H566.20H567.68V417.15H570.62V418.80H572.10H572.30V422.45H572.70V426.10H572.90H574.00V427.85H576.20V429.60H577.30H577.88V431.67H579.05V433.73H580.22V435.80H580.80H581.97V437.83H584.30V439.87H586.63V441.90H587.80H589.25V442.77H592.15V443.63H595.05V444.50H596.50H597.67V445.40H600.00V446.30H602.33V447.20H603.50H604.82V448.93H607.45V450.67H610.08V452.40H611.40H611.58V454.32H611.94V456.24H612.30V458.16H612.66V460.08H613.02V462.00H613.20H613.96V463.77H615.49V465.55H617.01V467.33H618.54V469.10H619.30H620.25V470.87H622.15V472.63H624.05V474.40H625.00H625.90V476.80H626.80L636.0,477.4H636.65V479.90H637.30H637.92V482.13H639.15V484.37H640.38V486.60H641.00L646.5,487.2H646.65V489.65H646.95V492.10H647.10L667.3,492.1H667.62V493.95H668.27V495.80H668.60L678.4,495.8H678.70V497.95H679.30V500.10H679.60L681.0,500.5" fill="none" stroke="#63c063" stroke-width="1" clip-path="url(#cd)"/>
<path d="M418.2,284.5H419.10V286.80H420.90V289.10H421.80H422.55V291.33H424.05V293.57H425.55V295.80H426.30H427.73V297.80H430.57V299.80H432.00H433.40V301.20H436.20V302.60H437.60H438.75V304.70H441.05V306.80H442.20H443.05V308.40H444.75V310.00H445.60H446.73V311.70H449.00V313.40H451.27V315.10H452.40H453.33V317.00H455.20V318.90H457.07V320.80H458.00H459.13V322.30H461.40V323.80H463.67V325.30H464.80H466.10V327.25H468.70V329.20H470.00H471.32V331.20H473.98V333.20H475.30H476.62V334.97H479.25V336.73H481.88V338.50H483.20H484.52V339.80H487.15V341.10H489.78V342.40H491.10H491.98V344.60H493.75V346.80H495.52V349.00H496.40H497.19V350.98H498.77V352.96H500.35V354.94H501.93V356.92H503.51V358.90H504.30H505.40V360.90H507.60V362.90H509.80V364.90H510.90H512.00V366.43H514.20V367.97H516.40V369.50H517.50H518.75V371.30H520.00H521.32V373.07H523.95V374.83H526.58V376.60H527.90H529.22V378.80H531.85V381.00H534.48V383.20H535.80H536.90V383.43H539.10V383.67H541.30V383.90H542.40H543.40V385.85H545.40V387.80H546.40H547.23V389.62H548.88V391.45H550.52V393.28H552.17V395.10H553.00H554.10V397.30H556.30V399.50H558.50V401.70H559.60H560.60V404.00H562.60V406.30H563.60H564.92V407.63H567.55V408.97H570.18V410.30H571.50H571.83V412.27H572.50V414.23H573.17V416.20H573.50H574.65V418.10H576.95V420.00H578.10H578.83V422.03H580.30V424.07H581.77V426.10H582.50H583.67V428.17H586.00V430.23H588.33V432.30H589.50H590.67V432.87H593.00V433.43H595.33V434.00H596.50H597.83V434.90H600.47V435.80H601.80H603.10V437.55H605.70V439.30H607.00H608.10V440.60H610.30V441.90H611.40H611.58V443.82H611.94V445.74H612.30V447.66H612.66V449.58H613.02V451.50H613.20H614.30V453.25H616.50V455.00H617.60H618.18V456.77H619.35V458.53H620.52V460.30H621.10H622.08V461.20H624.02V462.10H625.00H625.45V463.65H626.35V465.20H626.80L636.7,465.2H637.00V467.60H637.30H637.92V469.63H639.15V471.67H640.38V473.70H641.00H642.38V474.05H645.12V474.40H646.50H646.80V476.55H647.40V478.70H647.70L668.0,478.7H668.15V480.50H668.45V482.30H668.60L678.4,482.3H678.70V484.45H679.30V486.60H679.60H679.80V488.87H680.20V491.13H680.60V493.40H680.80H681.75V494.60H682.70H683.15V496.75H684.05V498.90H684.50H684.75V500.00H685.00" fill="none" stroke="#383838" stroke-width="1" clip-path="url(#cd)"/>
<path d="M418.2,284.5H419.10V286.80H420.90V289.10H421.80H422.50V291.40H423.90V293.70H425.30V296.00H426.00H427.50V298.40H430.50V300.80H432.00H433.40V302.40H436.20V304.00H437.60H438.75V306.00H441.05V308.00H442.20H442.75V309.85H443.85V311.70H444.40H445.55V313.95H447.85V316.20H449.00H450.40V317.90H453.20V319.60H454.60H456.03V321.90H458.88V324.20H460.30H461.43V326.45H463.68V328.70H464.80H465.67V330.63H467.40V332.57H469.13V334.50H470.00H471.10V336.27H473.30V338.03H475.50V339.80H476.60H477.70V341.33H479.90V342.87H482.10V344.40H483.20H484.52V345.73H487.15V347.07H489.78V348.40H491.10H491.60V350.20H492.60V352.00H493.60V353.80H494.60V355.60H495.10H495.93V357.60H497.57V359.60H499.23V361.60H500.88V363.60H501.70H502.52V365.40H504.18V367.20H505.82V369.00H507.48V370.80H508.30H509.62V372.80H512.25V374.80H514.88V376.80H516.20H517.15V378.00H519.05V379.20H520.00H521.32V380.97H523.95V382.73H526.58V384.50H527.90H528.89V386.48H530.86V388.45H532.84V390.42H534.81V392.40H535.80H536.90V392.87H539.10V393.33H541.30V393.80H542.40H543.28V395.53H545.05V397.27H546.82V399.00H547.70H548.53V401.00H550.17V403.00H551.83V405.00H553.47V407.00H554.30H555.18V409.20H556.95V411.40H558.72V413.60H559.60H560.70V415.80H562.90V418.00H565.10V420.20H566.20H567.53V421.15H570.17V422.10H571.50H571.73V424.03H572.20V425.97H572.67V427.90H572.90H573.92V429.93H575.95V431.97H577.98V434.00H579.00H579.88V436.20H581.62V438.40H582.50H583.16V440.38H584.49V442.35H585.81V444.32H587.14V446.30H587.80H589.25V446.87H592.15V447.43H595.05V448.00H596.50H597.67V448.90H600.00V449.80H602.33V450.70H603.50H604.38V452.45H606.12V454.20H607.88V455.95H609.62V457.70H610.50H610.84V459.88H611.51V462.05H612.19V464.22H612.86V466.40H613.20H614.22V468.17H616.25V469.93H618.28V471.70H619.30H620.01V473.45H621.44V475.20H622.86V476.95H624.29V478.70H625.00H625.45V480.50H626.35V482.30H626.80L636.0,482.9H636.33V484.45H636.97V486.00H637.30H637.80V488.03H638.80V490.07H639.80V492.10H640.30H641.70V492.45H644.50V492.80H645.90H646.12V495.25H646.57V497.70H646.80L667.3,497.7H667.95V500.10H668.60L670.0,500.5" fill="none" stroke="#ff6666" stroke-width="1" clip-path="url(#cd)"/>
<text x="0.3" y="12.4" class="pl">a</text>
<text x="0.2" y="285.5" class="pl">b</text>
<text x="358.0" y="12.5" class="pl">c</text>
<text x="357.4" y="285.6" class="pl">d</text>
</g>
</svg>
</body></html>
